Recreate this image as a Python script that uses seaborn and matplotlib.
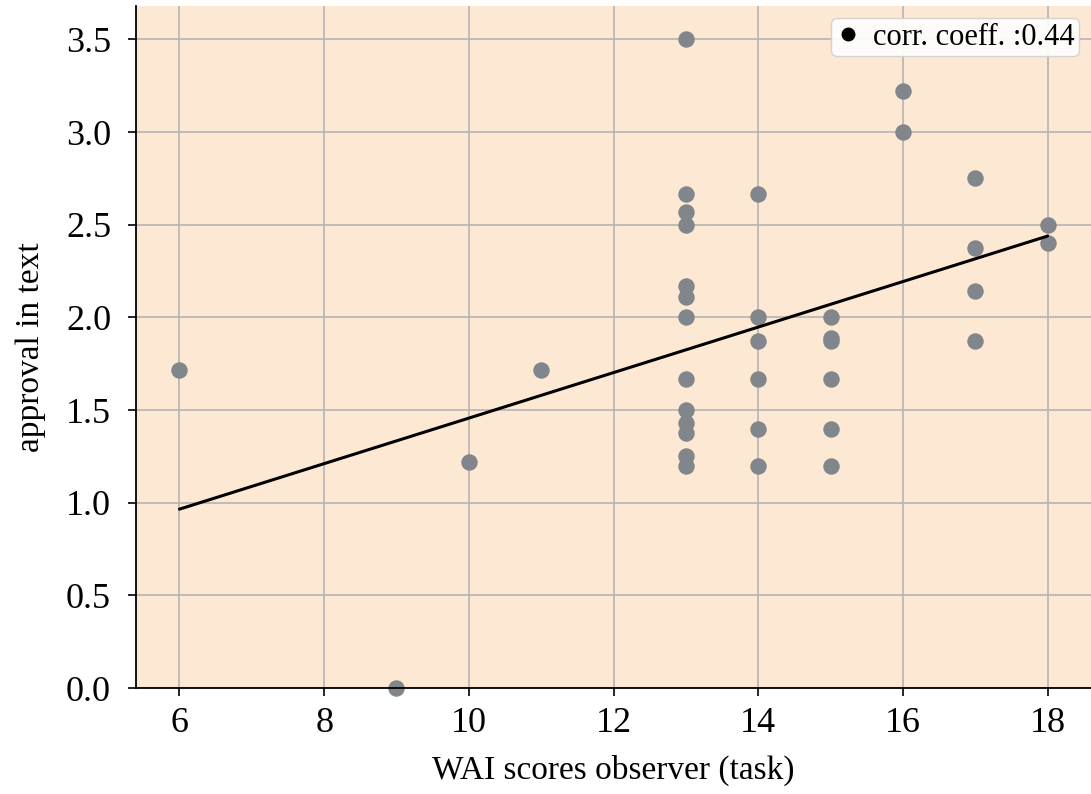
import matplotlib
matplotlib.use("Agg")
import matplotlib.pyplot as plt
from matplotlib.lines import Line2D
import seaborn as sns
import pandas as pd

# WAI observer score (task) for each participant
wai_task = [6, 9, 10, 11,
            13, 13, 13, 13, 13, 13, 13, 13, 13, 13, 13, 13, 13,
            14, 14, 14, 14, 14, 14,
            15, 15, 15, 15, 15, 15,
            16, 16,
            17, 17, 17, 17,
            18, 18]

# approval expressed in text, same participant order
approval = [1.714, 0.0, 1.222, 1.714,
            3.5, 2.667, 2.571, 2.5, 2.167, 2.111, 2.0, 1.667, 1.5, 1.429, 1.375, 1.25, 1.2,
            2.667, 2.0, 1.875, 1.667, 1.4, 1.2,
            2.0, 1.889, 1.875, 1.667, 1.4, 1.2,
            3.222, 3.0,
            2.75, 2.375, 2.143, 1.875,
            2.5, 2.4]

corr_label = "corr. coeff. :0.44"
x_label = "WAI scores observer (task)"
y_label = "approval in text"

df = pd.DataFrame({"wai": wai_task, "approval": approval})

sns.set_style("ticks")
plt.rcParams["font.family"] = ["Liberation Serif", "DejaVu Serif"]
plt.rcParams["text.color"] = "black"
plt.rcParams["axes.labelcolor"] = "black"
plt.rcParams["xtick.color"] = "black"
plt.rcParams["ytick.color"] = "black"

fig = plt.figure(figsize=(10.91, 7.94), dpi=100)
ax = fig.add_axes([0.1247, 0.1335, 0.8753, 0.8589])
ax.set_facecolor("#fde9d3")
ax.grid(True, color="#b4b4b4", linewidth=1.2, zorder=0)
ax.set_axisbelow(True)

sns.scatterplot(data=df, x="wai", y="approval", ax=ax, s=140,
                color="#80868b", linewidth=0, zorder=2, legend=False,
                clip_on=False)
sns.regplot(data=df, x="wai", y="approval", ax=ax, scatter=False, ci=None,
            line_kws=dict(color="black", linewidth=2.2, zorder=3))

ax.set_xlim(5.4, 18.6)
ax.set_ylim(0, 3.68)
ax.set_xticks([6, 8, 10, 12, 14, 16, 18])
ax.set_yticks([0.0, 0.5, 1.0, 1.5, 2.0, 2.5, 3.0, 3.5])
ax.set_yticklabels([f"{v:.1f}" for v in [0.0, 0.5, 1.0, 1.5, 2.0, 2.5, 3.0, 3.5]])

ax.set_xlabel(x_label, fontsize=24, labelpad=10)
ax.set_ylabel(y_label, fontsize=24, labelpad=14)
ax.tick_params(axis="both", labelsize=26, length=6, width=1.2,
               direction="out", colors="black")
ax.tick_params(axis="y", pad=12)
ax.tick_params(axis="x", pad=8)

for side in ("top", "right"):
    ax.spines[side].set_visible(False)
for side in ("left", "bottom"):
    ax.spines[side].set_linewidth(1.3)
    ax.spines[side].set_color("black")

handle = Line2D([], [], marker="o", linestyle="none", color="black", markersize=9)
ax.legend([handle], [corr_label], loc="upper right", fontsize=22,
          frameon=True, fancybox=True, framealpha=0.9, edgecolor="#d0d0d0",
          handlelength=0.8, handletextpad=0.4, borderpad=0.15,
          borderaxespad=0.4)

fig.savefig("out.png", dpi=100)
